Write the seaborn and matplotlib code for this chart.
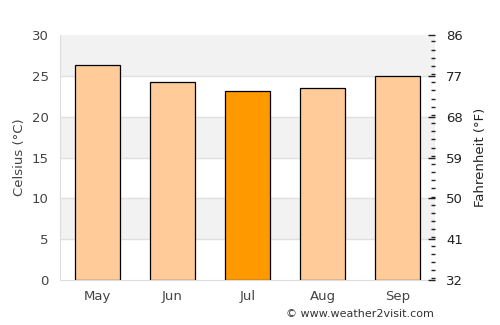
import matplotlib
matplotlib.use("Agg")
import matplotlib.pyplot as plt
import seaborn as sns
import pandas as pd
from matplotlib.ticker import MultipleLocator

# Monthly average temperature (Celsius)
months = ["May", "Jun", "Jul", "Aug", "Sep"]
celsius = [26.3, 24.2, 23.1, 23.5, 25.0]
highlight = "Jul"

df = pd.DataFrame({"Month": months, "Celsius": celsius})
colors = ["#ff9900" if m == highlight else "#ffcc99" for m in months]

sns.set_style("white")
plt.rcParams["font.family"] = ["DejaVu Sans"]

fig = plt.figure(figsize=(5, 3.25), dpi=100)
ax = fig.add_axes([0.12, 0.138, 0.75, 0.754])

# alternating background bands
for lo in range(5, 30, 10):
    ax.axhspan(lo, lo + 5, color="#f2f2f2", zorder=0, lw=0)
for y in range(5, 30, 5):
    ax.axhline(y, color="#e0e0e0", lw=1, zorder=0.5)

sns.barplot(data=df, x="Month", y="Celsius", hue="Month", palette=colors,
            legend=False, width=0.6, edgecolor="black", linewidth=0.9,
            saturation=1, ax=ax, zorder=2)

ax.set_xlim(-0.5, len(months) - 0.5)
ax.set_ylim(0, 30)
ax.set_yticks(range(0, 31, 5))
ax.set_xlabel("")
ax.set_ylabel("Celsius (°C)", color="#444444", fontsize=9.5)
ax.tick_params(axis="both", colors="#444444", labelsize=9.5, length=0)
ax.tick_params(axis="y", pad=8)
ax.tick_params(axis="x", pad=7)
for s in ["top", "right"]:
    ax.spines[s].set_visible(False)
for s in ["left", "bottom"]:
    ax.spines[s].set_color("#dddddd")

ax2 = ax.twinx()
ax2.set_ylim(32, 86)
ax2.set_yticks(range(32, 87, 9))
ax2.yaxis.set_minor_locator(MultipleLocator(1.8))
ax2.tick_params(axis="y", which="major", direction="in", length=5, width=1,
                colors="#222222", labelsize=9.5, pad=8, labelcolor="#222222")
ax2.tick_params(axis="y", which="minor", direction="in", length=3, width=1,
                colors="#222222")
ax2.set_ylabel("Fahrenheit (°F)", color="#222222", fontsize=9.5, labelpad=8)
for s in ["top", "left", "bottom", "right"]:
    ax2.spines[s].set_visible(False)

fig.text(0.72, 0.035, "© www.weather2visit.com", ha="center", va="center",
         fontsize=8, color="#333333")

fig.savefig("out.png", dpi=100)
